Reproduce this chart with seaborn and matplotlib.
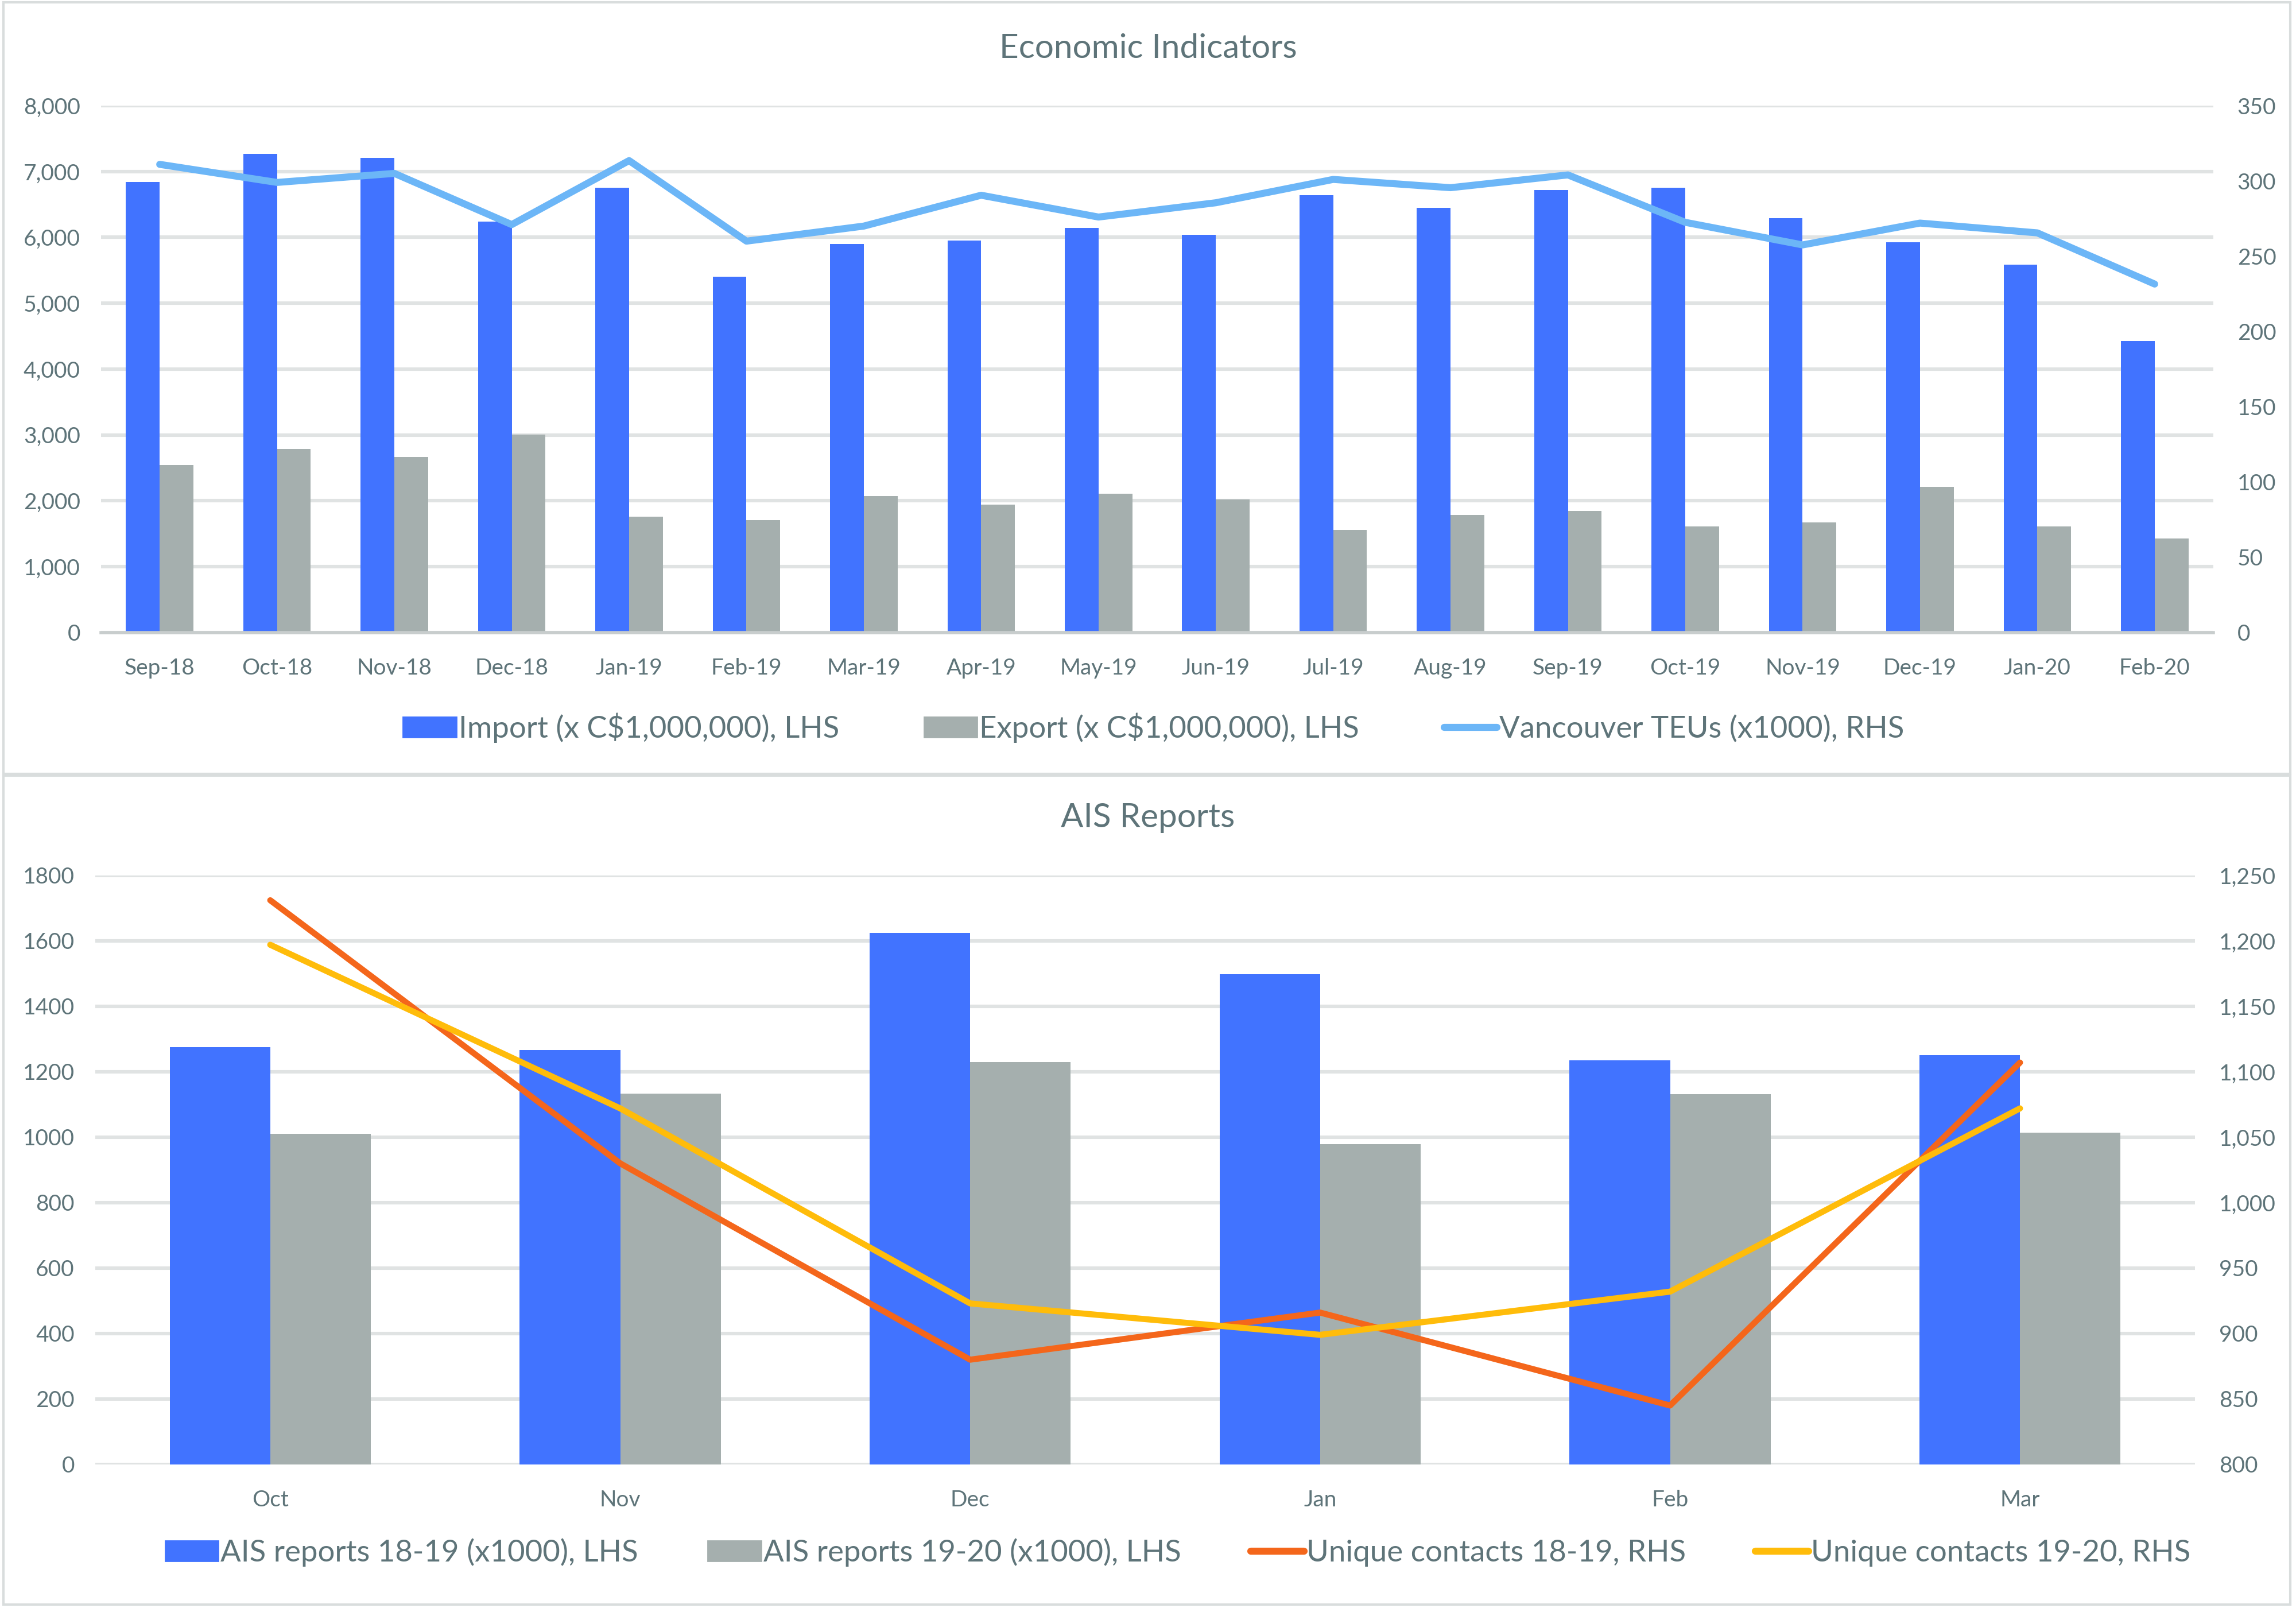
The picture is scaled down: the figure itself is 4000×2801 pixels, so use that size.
import numpy as np
import pandas as pd
import matplotlib
matplotlib.use('Agg')
import matplotlib.pyplot as plt
from matplotlib.patches import Patch, Rectangle
from matplotlib.lines import Line2D
from matplotlib.ticker import FuncFormatter
import seaborn as sns

# ---- data: economic indicators ----
months = ['Sep-18', 'Oct-18', 'Nov-18', 'Dec-18', 'Jan-19', 'Feb-19', 'Mar-19', 'Apr-19', 'May-19',
          'Jun-19', 'Jul-19', 'Aug-19', 'Sep-19', 'Oct-19', 'Nov-19', 'Dec-19', 'Jan-20', 'Feb-20']
imports = [6840, 7270, 7210, 6240, 6750, 5400, 5900, 5950, 6140,
           6040, 6640, 6450, 6720, 6750, 6290, 5930, 5590, 4430]
exports = [2540, 2790, 2670, 3010, 1760, 1710, 2070, 1940, 2110,
           2020, 1560, 1790, 1850, 1610, 1670, 2210, 1610, 1430]
teus = [311, 299, 305, 271, 313.5, 260, 270, 290.5, 276,
        285.5, 301, 295.5, 304, 272.5, 257.5, 272, 265.5, 231.5]

# ---- data: AIS reports ----
ais_months = ['Oct', 'Nov', 'Dec', 'Jan', 'Feb', 'Mar']
ais_1819 = [1276, 1266, 1625, 1498, 1234, 1250]
ais_1920 = [1010, 1133, 1229, 978, 1131, 1013]
contacts_1819 = [1231, 1030, 880, 916, 845, 1107]
contacts_1920 = [1197, 1072, 923, 899, 932, 1072]

BLUE = '#4173FF'
GREY = '#A5AFAE'
SKY = '#6CB6F7'
ORANGE = '#F4661B'
YELLOW = '#FFBC0A'
TXT = '#5E7479'
GRID = '#E0E3E3'

sns.set_theme(style='white')
plt.rcParams['font.family'] = ['Lato', 'DejaVu Sans']
plt.rcParams['text.color'] = TXT

fig = plt.figure(figsize=(20, 14.005), dpi=200)

# panel frames
fig.patches.append(Rectangle((0.0015, 0.5188), 0.996, 0.4797, transform=fig.transFigure,
                             fill=False, edgecolor='#D9DDDD', linewidth=1.5))
fig.patches.append(Rectangle((0.0015, 0.002), 0.996, 0.5155, transform=fig.transFigure,
                             fill=False, edgecolor='#D9DDDD', linewidth=1.5))

thousands = FuncFormatter(lambda v, p: f'{v:,.0f}')


def style_axes(ax, ax2, pad_l, pad_r):
    for a in (ax, ax2):
        for s in a.spines.values():
            s.set_visible(False)
    ax.grid(axis='y', color=GRID, linewidth=2.2)
    ax.set_axisbelow(True)
    ax.tick_params(axis='y', length=0, pad=pad_l, labelsize=14, labelcolor=TXT)
    ax2.tick_params(axis='y', length=0, pad=pad_r, labelsize=14, labelcolor=TXT)
    ax.set_xlabel('')
    ax.set_ylabel('')
    ax2.set_ylabel('')


# ---------------- top chart ----------------
ax = fig.add_axes([0.044, 0.6066, 0.920, 0.3277])
df_top = pd.DataFrame({
    'month': months * 2,
    'value': imports + exports,
    'series': ['Import (x C$1,000,000), LHS'] * len(months) + ['Export (x C$1,000,000), LHS'] * len(months),
})
sns.barplot(data=df_top, x='month', y='value', hue='series', order=months,
            palette=[BLUE, GREY], width=0.575, gap=0, saturation=1, linewidth=0,
            ax=ax, legend=False)
ax.set_ylim(0, 8000)
ax.set_yticks(np.arange(0, 8001, 1000))
ax.yaxis.set_major_formatter(thousands)
ax.set_xlim(-0.5, len(months) - 0.5)

ax2 = ax.twinx()
sns.lineplot(x=np.arange(len(months)), y=teus, color=SKY, linewidth=4.4, ax=ax2)
ax2.set_ylim(0, 350)
ax2.set_yticks(np.arange(0, 351, 50))
ax2.set_xlim(-0.5, len(months) - 0.5)
style_axes(ax, ax2, 13, 15)

ax.spines['bottom'].set_visible(True)
ax.spines['bottom'].set_color('#C8CDCD')
ax.spines['bottom'].set_linewidth(2)
ax.set_xticks(np.arange(len(months)))
ax.set_xticklabels(months)
ax.set_xticks(np.arange(len(months) + 1) - 0.5, minor=True)
ax.tick_params(axis='x', which='major', length=0, pad=16, labelsize=14, labelcolor=TXT)
ax.tick_params(axis='x', which='minor', length=7, width=2, color='#C8CDCD', direction='out')

fig.text(0.5, 0.970, 'Economic Indicators', ha='center', va='center', fontsize=21, color=TXT)
top_handles = [Patch(color=BLUE), Patch(color=GREY), Line2D([], [], color=SKY, linewidth=4.4)]
top_labels = ['Import (x C$1,000,000), LHS', 'Export (x C$1,000,000), LHS', 'Vancouver TEUs (x1000), RHS']
fig.legend(top_handles, top_labels, loc='center', bbox_to_anchor=(0.5025, 0.5473), ncol=3,
           frameon=False, fontsize=19, handlelength=1.75, handleheight=0.65, handletextpad=0.08,
           columnspacing=2.8, labelcolor=TXT)

# ---------------- bottom chart ----------------
bx = fig.add_axes([0.0415, 0.0893, 0.9145, 0.3663])
df_bot = pd.DataFrame({
    'month': ais_months * 2,
    'value': ais_1819 + ais_1920,
    'series': ['AIS reports 18-19 (x1000), LHS'] * len(ais_months) + ['AIS reports 19-20 (x1000), LHS'] * len(ais_months),
})
sns.barplot(data=df_bot, x='month', y='value', hue='series', order=ais_months,
            palette=[BLUE, GREY], width=0.575, gap=0, saturation=1, linewidth=0,
            ax=bx, legend=False)
bx.set_ylim(0, 1800)
bx.set_yticks(np.arange(0, 1801, 200))
bx.set_xlim(-0.5, len(ais_months) - 0.5)

bx2 = bx.twinx()
sns.lineplot(x=np.arange(len(ais_months)), y=contacts_1819, color=ORANGE, linewidth=3.8, ax=bx2)
sns.lineplot(x=np.arange(len(ais_months)), y=contacts_1920, color=YELLOW, linewidth=3.8, ax=bx2)
bx2.set_ylim(800, 1250)
bx2.set_yticks(np.arange(800, 1251, 50))
bx2.yaxis.set_major_formatter(thousands)
bx2.set_xlim(-0.5, len(ais_months) - 0.5)
style_axes(bx, bx2, 13, 15)
bx.tick_params(axis='x', length=0, pad=16, labelsize=14, labelcolor=TXT)

fig.text(0.5, 0.4916, 'AIS Reports', ha='center', va='center', fontsize=21, color=TXT)
bot_handles = [Patch(color=BLUE), Patch(color=GREY),
               Line2D([], [], color=ORANGE, linewidth=4.4), Line2D([], [], color=YELLOW, linewidth=4.4)]
bot_labels = ['AIS reports 18-19 (x1000), LHS', 'AIS reports 19-20 (x1000), LHS',
              'Unique contacts 18-19, RHS', 'Unique contacts 19-20, RHS']
fig.legend(bot_handles, bot_labels, loc='center', bbox_to_anchor=(0.513, 0.0346), ncol=4,
           frameon=False, fontsize=19, handlelength=1.75, handleheight=0.65, handletextpad=0.08,
           columnspacing=2.3, labelcolor=TXT)

fig.savefig('out.png', dpi=200, facecolor='white')
